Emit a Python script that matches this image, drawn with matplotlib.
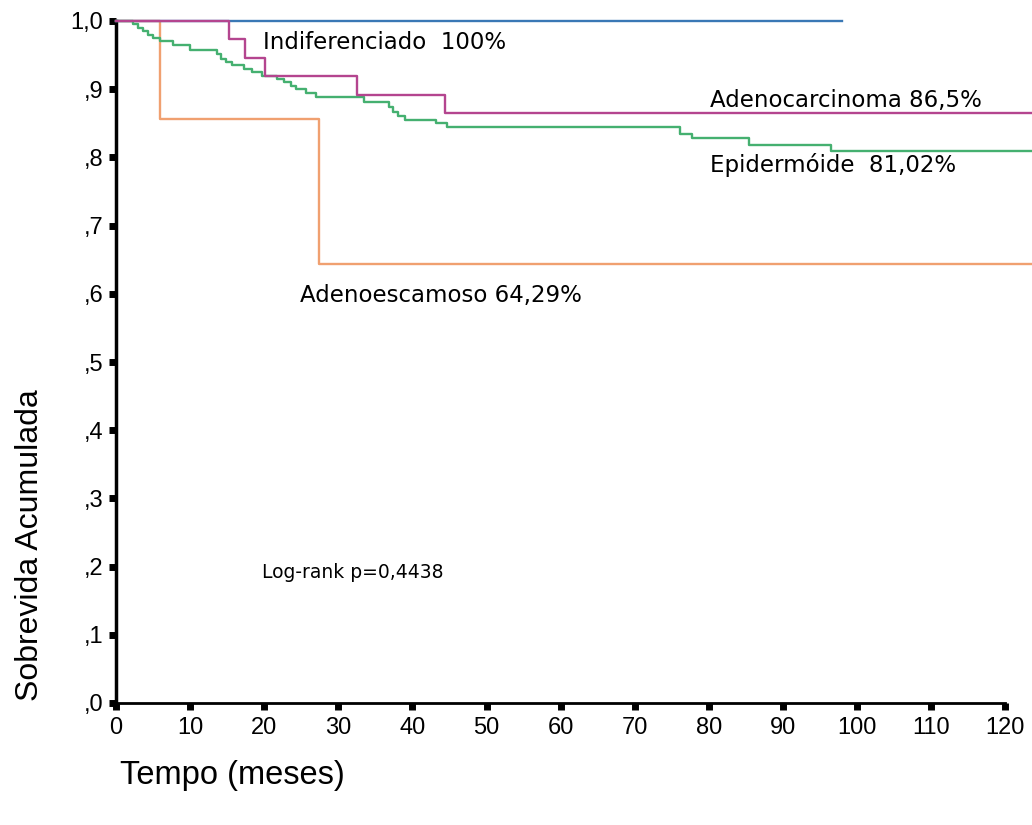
import matplotlib
matplotlib.use("Agg")
import matplotlib.pyplot as plt
import numpy as np

plt.rcParams['font.family'] = ['Liberation Sans', 'DejaVu Sans']

# Kaplan-Meier step data (time in months, survival after event)
indif_t = [0, 98]
indif_s = [1.0, 1.0]

adeno_t = [0, 15.3, 17.4, 20.1, 32.5, 44.4, 124]
adeno_s = [1.0, 0.973, 0.946, 0.919, 0.892, 0.865, 0.865]

adesc_t = [0, 5.9, 27.4, 124]
adesc_s = [1.0, 0.857, 0.643, 0.643]

epid_t = [0, 2.3, 3.0, 3.6, 4.3, 5.0, 5.9, 7.7, 10.0, 13.6, 14.2, 14.9, 15.7, 17.3,
          18.4, 19.7, 21.7, 22.7, 23.6, 24.3, 25.6, 27.0, 33.5, 36.8, 37.4, 38.1,
          39.0, 43.2, 44.6, 76.1, 77.7, 85.4, 96.5, 124]
epid_s = [1.0, 0.995, 0.990, 0.985, 0.980, 0.975, 0.970, 0.965, 0.958, 0.951, 0.945,
          0.940, 0.935, 0.930, 0.925, 0.920, 0.915, 0.910, 0.905, 0.900, 0.895, 0.889,
          0.881, 0.874, 0.867, 0.861, 0.855, 0.850, 0.845, 0.834, 0.828, 0.818, 0.810,
          0.810]

x_ticks = list(range(0, 121, 10))
y_ticks = [0.0, 0.1, 0.2, 0.3, 0.4, 0.5, 0.6, 0.7, 0.8, 0.9, 1.0]
y_labels = [',0', ',1', ',2', ',3', ',4', ',5', ',6', ',7', ',8', ',9', '1,0']

fig = plt.figure(figsize=(10.32, 8.25), dpi=100)
ax = fig.add_axes([116/1032, 122/825, (1032-116)/1032, (703-21)/825])

lw = 1.7
ax.step(indif_t, indif_s, where='post', color='#3a78b5', lw=lw, clip_on=False, zorder=3)
ax.step(epid_t, epid_s, where='post', color='#45b070', lw=lw, clip_on=False, zorder=4)
ax.step(adeno_t, adeno_s, where='post', color='#b4458f', lw=lw, clip_on=False, zorder=5)
ax.step(adesc_t, adesc_s, where='post', color='#f0a070', lw=lw, clip_on=False, zorder=2)

ax.set_xlim(0, 123.6)
ax.set_ylim(0, 1.0)
ax.spines['top'].set_visible(False)
ax.spines['right'].set_visible(False)
ax.spines['bottom'].set_bounds(0, 120)
ax.spines['left'].set_linewidth(2.5)
ax.spines['bottom'].set_linewidth(2.0)

ax.set_xticks(x_ticks)
ax.set_xticklabels([str(v) for v in x_ticks])
ax.set_yticks(y_ticks)
ax.set_yticklabels(y_labels)
ax.tick_params(axis='both', direction='out', length=5, width=5, labelsize=17,
               color='black', pad=4)
ax.tick_params(axis='x', pad=5)

ax.set_ylabel('Sobrevida Acumulada', fontsize=23)
ax.yaxis.set_label_coords(-0.0775, 0.232)
ax.set_xlabel('Tempo (meses)', fontsize=23.5)
ax.xaxis.set_label_coords(0.004, -0.0836)
ax.xaxis.label.set_horizontalalignment('left')

fs = 16.5
fam = ['DejaVu Sans']
ax.text(19.8, 0.969, 'Indiferenciado  100%', fontsize=fs, va='center', ha='left', family=fam)
ax.text(80.2, 0.884, 'Adenocarcinoma 86,5%', fontsize=fs, va='center', ha='left', family=fam)
ax.text(80.2, 0.789, 'Epidermóide  81,02%', fontsize=fs, va='center', ha='left', family=fam)
ax.text(24.8, 0.597, 'Adenoescamoso 64,29%', fontsize=fs, va='center', ha='left', family=fam)
ax.text(19.7, 0.192, 'Log-rank p=0,4438', fontsize=13.5, va='center', ha='left', family=fam)

fig.savefig('out.png', dpi=100)
